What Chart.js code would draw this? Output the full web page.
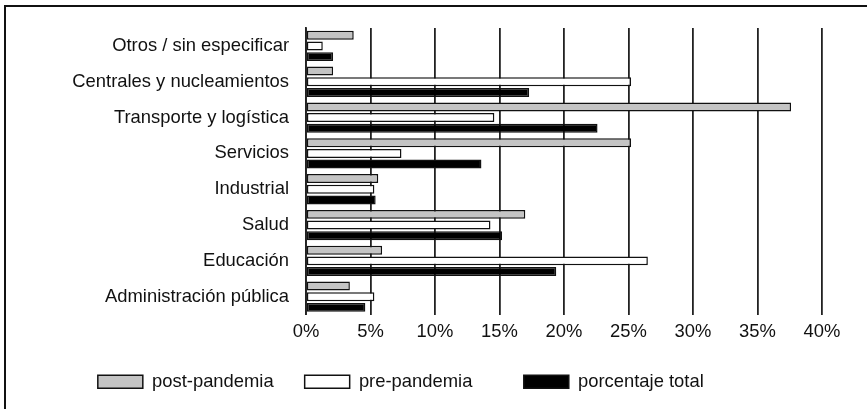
<!DOCTYPE html>
<html>
<head>
<meta charset="utf-8">
<script src="https://cdn.jsdelivr.net/npm/chart.js@4"></script>
<style>
  html, body { margin: 0; padding: 0; background: #fff; overflow: hidden; width: 867px; height: 409px; }
  #frame {
    position: fixed; left: 4px; top: 5px; right: -20px; bottom: -20px;
    border-left: 2.5px solid #111; border-top: 2.5px solid #111;
  }
  #wrap { position: absolute; left: 0; top: 0; width: 867px; height: 409px; }
</style>
</head>
<body>
<div id="frame"></div>
<div id="wrap"><canvas id="chart" width="867" height="409"></canvas></div>
<script>
const categories = [
  'Otros / sin especificar',
  'Centrales y nucleamientos',
  'Transporte y logística',
  'Servicios',
  'Industrial',
  'Salud',
  'Educación',
  'Administración pública'
];
const postPandemia = [3.7, 2.1, 37.6, 25.2, 5.6, 17.0, 5.9, 3.4];
const prePandemia = [1.3, 25.2, 14.6, 7.4, 5.3, 14.3, 26.5, 5.3];
const porcentajeTotal = [2.1, 17.3, 22.6, 13.6, 5.4, 15.2, 19.4, 4.6];
const xTicks = [0, 5, 10, 15, 20, 25, 30, 35, 40];

Chart.defaults.font.family = '"Liberation Sans", Arial, Helvetica, sans-serif';
Chart.defaults.font.size = 18.4;
Chart.defaults.color = '#111';

const barStyle = { borderWidth: 1.5, borderColor: '#111', borderSkipped: false };

// trailing spaces widen the legend items so the gaps fall where they do in the original
const legendPad = ['', '    ', '    '];

new Chart(document.getElementById('chart'), {
  type: 'bar',
  data: {
    labels: categories,
    datasets: [
      { label: 'post-pandemia', data: postPandemia, backgroundColor: '#c4c4c4', ...barStyle },
      { label: 'pre-pandemia', data: prePandemia, backgroundColor: '#ffffff', ...barStyle },
      { label: 'porcentaje total', data: porcentajeTotal, backgroundColor: '#000000', ...barStyle }
    ]
  },
  options: {
    indexAxis: 'y',
    responsive: false,
    animation: false,
    layout: { padding: { left: 0, top: 24, right: 45, bottom: 8 } },
    datasets: { bar: { categoryPercentage: 0.895, barPercentage: 0.84 } },
    plugins: {
      tooltip: { enabled: false },
      legend: {
        position: 'bottom',
        labels: {
          boxWidth: 45,
          boxHeight: 13,
          padding: 31,
          color: '#111',
          generateLabels: (chart) => {
            const items = Chart.defaults.plugins.legend.labels.generateLabels(chart);
            items.forEach((it, i) => { it.text = it.text + legendPad[i]; });
            return items;
          }
        }
      }
    },
    scales: {
      x: {
        min: 0,
        max: 40,
        afterBuildTicks: (axis) => { axis.ticks = xTicks.map(v => ({ value: v })); },
        afterFit: (axis) => { axis.height = 27; },
        grid: { color: '#222', lineWidth: 1.8, drawTicks: false },
        border: { display: false },
        ticks: { padding: 6, callback: (v) => v + '%' }
      },
      y: {
        afterFit: (axis) => { axis.width = 306; },
        grid: { display: false, drawTicks: false },
        border: { display: true, color: '#222', width: 1.8 },
        ticks: { padding: 17 }
      }
    }
  }
});
</script>
</body>
</html>
